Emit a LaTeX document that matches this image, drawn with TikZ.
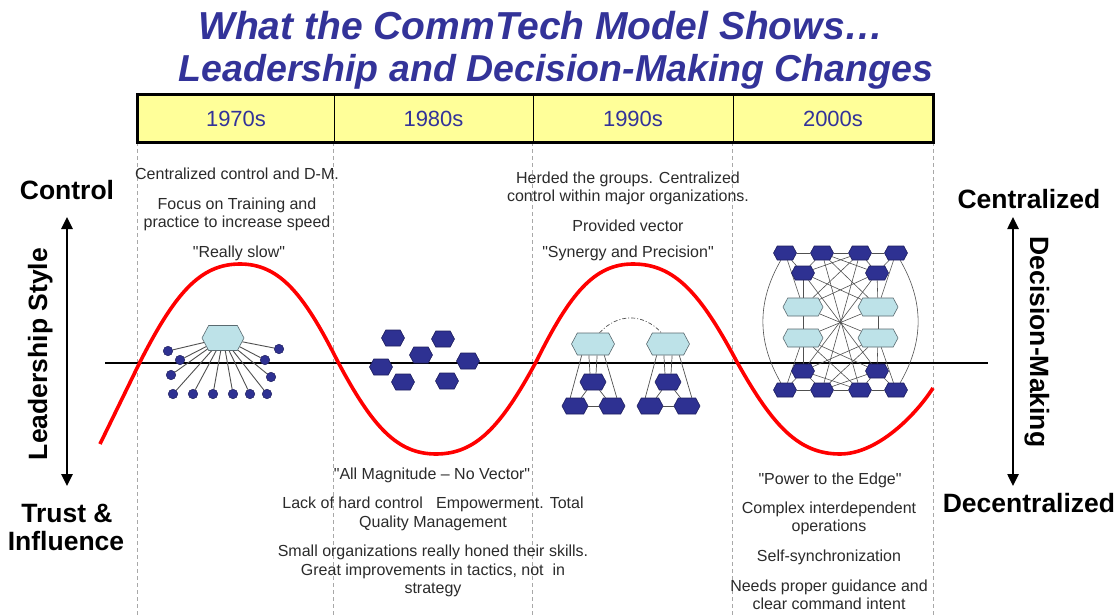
\documentclass[tikz,border=0pt]{standalone}
\usepackage{fontspec}
\setmainfont{Liberation Sans}[Ligatures=TeXOff]
\usetikzlibrary{arrows.meta,shapes.symbols}
\definecolor{navy}{HTML}{333399}
\definecolor{hexdark}{HTML}{2E3192}
\definecolor{hexedge}{HTML}{1E1E5E}
\definecolor{hexlight}{HTML}{BDE2E8}
\definecolor{hexledge}{HTML}{5A6A70}
\definecolor{txtgray}{HTML}{2B2B2B}
\definecolor{dashgray}{HTML}{A8A8A8}
\definecolor{yellowbar}{HTML}{FFFF99}
\definecolor{linkgray}{HTML}{505050}
\pgfdeclarelayer{bg}
\pgfdeclarelayer{paper}
\pgfsetlayers{paper,bg,main}
\tikzset{
  txt/.style={anchor=base, inner sep=0pt, text=txtgray, font=\fontsize{16}{19}\selectfont},
  big/.style={anchor=base, inner sep=0pt, text=black, font=\fontsize{26.5}{30}\selectfont\bfseries},
  ttl/.style={anchor=base, inner sep=0pt, text=navy, font=\fontsize{37.5}{42}\selectfont\bfseries\itshape},
  cell/.style={draw=black, line width=0.8pt, fill=yellowbar, minimum height=47pt, inner sep=0pt,
    text=navy, font=\fontsize{22}{26}\selectfont},
  hexd/.style={shape=signal, signal to=east and west, signal pointer angle=124, draw=hexedge,
    fill=hexdark, line width=0.6pt, inner sep=0pt},
  hexl/.style={shape=signal, signal to=east and west, signal pointer angle=124, draw=hexledge,
    fill=hexlight, line width=0.6pt, inner sep=0pt},
  dot/.style={circle, fill=hexdark, draw=hexedge, line width=0.5pt, inner sep=0pt, minimum size=9.5pt},
  link/.style={draw=linkgray, line width=0.7pt},
  wave/.style={draw=red, line width=3.6pt, line join=round},
  divider/.style={draw=dashgray, line width=0.8pt, dash pattern=on 4pt off 3pt},
  dblarrow/.style={{Triangle[length=12pt,width=11pt]}-{Triangle[length=12pt,width=11pt]}, line width=2.5pt},
}
\begin{document}
\begin{tikzpicture}[x=1pt,y=-1pt]
\useasboundingbox (0,0) rectangle (1120,615);
\begin{pgfonlayer}{paper}
  \fill[white] (0,0) rectangle (1120,615);
\end{pgfonlayer}

% title
\node[ttl, font=\fontsize{39}{42}\selectfont\bfseries\itshape] (t1) at (541,40) {What the CommTech Model Shows…};
\node[ttl] (t2) at (556,82) {Leadership and Decision-Making Changes};

% header bar
\node[cell, minimum width=196pt] (c70) at (236,118.5) {1970s};
\node[cell, minimum width=199pt] (c80) at (433.5,118.5) {1980s};
\node[cell, minimum width=200pt] (c90) at (633,118.5) {1990s};
\node[cell, minimum width=200pt] (c00) at (833,118.5) {2000s};
\draw[line width=3pt] (c70.north west) rectangle (c00.south east);

\coordinate (bot) at (0,615);
\coordinate (hl) at (105,363);
\coordinate (hr) at (988,363);
\begin{pgfonlayer}{paper}
  \draw[divider] (c70.south west) -- (c70.south west |- bot);
  \draw[divider] (c80.south west) -- (c80.south west |- bot);
  \draw[divider] (c90.south west) -- (c90.south west |- bot);
  \draw[divider] (c00.south west) -- (c00.south west |- bot);
  \draw[divider] (c00.south east) -- (c00.south east |- bot);
  \draw[line width=2.2pt] (hl) -- (hr);
\end{pgfonlayer}

% red wave
\begin{pgfonlayer}{bg}
\draw[wave] (100,444) -- (140,362)
  .. controls (175,293.4) and (200,264) .. (240,264)
  .. controls (279.2,264) and (303.7,293.4) .. (338,362)
  .. controls (372.3,426.4) and (396.8,454) .. (436,454)
  .. controls (476,454) and (501,426.4) .. (536,362)
  .. controls (570,293.4) and (594.2,264) .. (633,264)
  .. controls (674.6,264) and (700.6,293.4) .. (737,362)
  .. controls (773,426.4) and (798.8,454) .. (840,454)
  .. controls (877,454) and (915,416) .. (933,388);
\end{pgfonlayer}

% side labels and arrows
\node[big] (ctrl) at (67,200) {Control};
\node[big] (trust) at (67,522) {Trust \&};
\node[big] (infl) at (66,550) {Influence};
\node[big, rotate=90] (lstyle) at (47,354) {Leadership Style};
\node[big] (cent) at (1029,208) {Centralized};
\node[big] (decent) at (1029,512) {Decentralized};
\node[big, rotate=-90] (dm) at (1030,342) {Decision-Making};
\coordinate (la1) at (67,217);
\coordinate (la2) at (67,486);
\coordinate (ra1) at (1013,217);
\coordinate (ra2) at (1013,486);
\draw[dblarrow] (la1) -- (la2);
\draw[dblarrow] (ra1) -- (ra2);

% column texts
\node[txt] (a1) at (237,180) {Centralized control and D-M.};
\node[txt] (a2) at (237,209) {Focus on Training and};
\node[txt] (a3) at (237,227) {practice to increase speed};
\node[txt] (a4) at (239,257) {"Really slow"};

\node[txt] (b1) at (628,184) {Herded the groups. Centralized};
\node[txt] (b2) at (628,202) {control within major organizations.};
\node[txt] (b3) at (628,231) {Provided vector};
\node[txt] (b4) at (628,258) {"Synergy and Precision"};

\node[txt] (e1) at (432,479) {"All Magnitude – No Vector"};
\node[txt] (e2) at (433,508) {Lack of hard control\ \ \ Empowerment. Total};
\node[txt] (e3) at (433,527) {Quality Management};
\node[txt] (e4) at (433,556) {Small organizations really honed their skills.};
\node[txt] (e5) at (433,575) {Great improvements in tactics, not\ \ in};
\node[txt] (e6) at (433,593) {strategy};

\node[txt] (f1) at (830,484) {"Power to the Edge"};
\node[txt] (f2) at (829,513) {Complex interdependent};
\node[txt] (f3) at (829,531) {operations};
\node[txt] (f4) at (829,561) {Self-synchronization};
\node[txt] (f5) at (829,591) {Needs proper guidance and};
\node[txt] (f6) at (829,609) {clear command intent};

% 1970s: star network
\node[hexl, minimum width=42pt, minimum height=25pt] (h70) at (223,338) {};
\node[dot] (p1) at (168,351) {};
\node[dot] (p2) at (180,360) {};
\node[dot] (p3) at (171,375) {};
\node[dot] (p4) at (279,349) {};
\node[dot] (p5) at (265,360) {};
\node[dot] (p6) at (271,377) {};
\node[dot] (q1) at (173,394) {};
\node[dot] (q2) at (193,394) {};
\node[dot] (q3) at (213,394) {};
\node[dot] (q4) at (233,394) {};
\node[dot] (q5) at (250,394) {};
\node[dot] (q6) at (267,394) {};
\begin{pgfonlayer}{bg}
  \foreach \d in {p1,p2,p3,p4,p5,p6,q1,q2,q3,q4,q5,q6}
    \draw[link, line width=0.9pt] (h70) -- (\d);
\end{pgfonlayer}

% 1980s: scattered units
\foreach \n/\x/\y in {g1/393/338, g2/443/339, g3/421/355, g4/381/367, g5/468/361, g6/403/382, g7/447/381}
  \node[hexd, minimum width=23pt, minimum height=16pt] (\n) at (\x,\y) {};

% 1990s: two herded groups
\node[hexl, minimum width=43pt, minimum height=22pt] (la) at (593,344) {};
\node[hexl, minimum width=43pt, minimum height=22pt] (lb) at (668,344) {};
\node[hexd, minimum width=26pt, minimum height=16pt] (da1) at (593,382) {};
\node[hexd, minimum width=26pt, minimum height=16pt] (da2) at (575,406) {};
\node[hexd, minimum width=26pt, minimum height=16pt] (da3) at (612,406) {};
\node[hexd, minimum width=26pt, minimum height=16pt] (db1) at (668,382) {};
\node[hexd, minimum width=26pt, minimum height=16pt] (db2) at (650,406) {};
\node[hexd, minimum width=26pt, minimum height=16pt] (db3) at (687,406) {};
\draw[link, dash pattern=on 4pt off 2pt on 1pt off 2pt] (la.60) .. controls (618,313) and (643,313) .. (lb.120);
\begin{pgfonlayer}{bg}
  \foreach \l/\a/\b/\c in {la/da1/da2/da3, lb/db1/db2/db3} {
    \draw[link] (\l.250) -- (\a.110);
    \draw[link] (\l.290) -- (\a.70);
    \draw[link] (\l.225) -- (\b.120);
    \draw[link] (\l.315) -- (\c.60);
    \draw[link] (\a) -- (\b);
    \draw[link] (\a) -- (\c);
    \draw[link] (\b) -- (\c);
  }
\end{pgfonlayer}

% 2000s: interdependent network
\foreach \n/\x/\y in {w1/785/253, w2/822/253, w3/860/253, w4/896/253, ws1/803/273, ws2/877/273,
                      ws3/803/371, ws4/877/371, wb1/785/390, wb2/822/390, wb3/860/390, wb4/896/390}
  \node[hexd, minimum width=23pt, minimum height=14pt] (\n) at (\x,\y) {};
\foreach \n/\x/\y in {wl1/803/307, wl2/878/307, wl3/803/338, wl4/878/338}
  \node[hexl, minimum width=40pt, minimum height=18pt] (\n) at (\x,\y) {};
\begin{pgfonlayer}{bg}
  \foreach \a/\b in {w1/w2, w2/w3, w3/w4, wb1/wb2, wb2/wb3, wb3/wb4,
      w1/ws1, w2/ws1, w3/ws2, w4/ws2, w2/ws2, w3/ws1,
      wb1/ws3, wb2/ws3, wb3/ws4, wb4/ws4, wb2/ws4, wb3/ws3,
      ws1/wl1, wl1/wl3, wl3/ws3, ws2/wl2, wl2/wl4, wl4/ws4,
      w1/wl1, w4/wl2, wb1/wl3, wb4/wl4,
      w2/wl2, w3/wl1, ws1/wl2, ws2/wl1,
      wb2/wl4, wb3/wl3, ws3/wl4, ws4/wl3,
      wl1/wl4, wl2/wl3, w2/wb3, w3/wb2, ws1/ws4, ws2/ws3}
    \draw[link, line width=0.6pt] (\a) -- (\b);
  \draw[link, line width=0.6pt] (w1) to[bend right=30] (wb1);
  \draw[link, line width=0.6pt] (w4) to[bend left=30] (wb4);
\end{pgfonlayer}
\end{tikzpicture}
\end{document}
